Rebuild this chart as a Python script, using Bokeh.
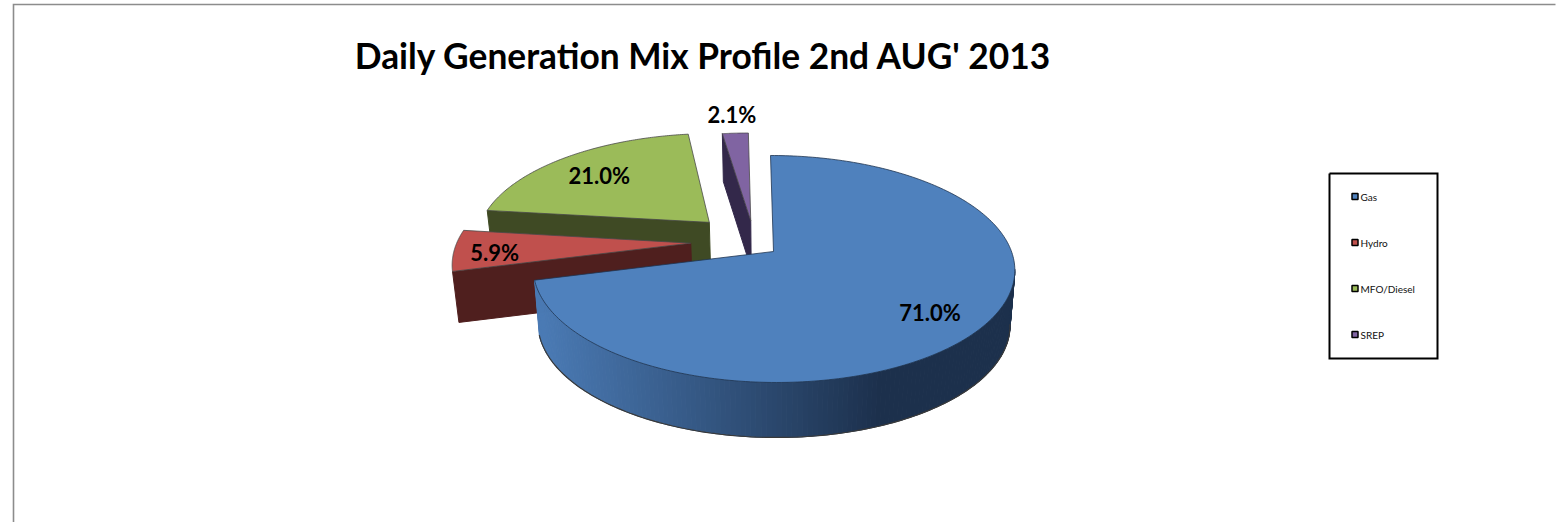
import math
from bokeh.plotting import figure
from bokeh.core.properties import value
from bokeh.embed import file_html
from bokeh.resources import INLINE

# ---- data ----
categories = ["Gas", "Hydro", "MFO/Diesel", "SREP"]
shares = [71.0, 5.9, 21.0, 2.1]
title_text = "Daily Generation Mix Profile 2nd AUG' 2013"

# ---- style / layout ----
top_colors = ["#4f81bd", "#c0504d", "#9bbb59", "#8064a2"]
side_colors = ["#2f4d73", "#4f1f1e", "#3f4a24", "#33284a"]
explode = [0.0, 0.36, 0.39, 0.32]
scale = [1.0, 0.98, 1.0, 1.0]
nudge = [(0, 0), (3, -11), (0, 0), (-17, 3)]
depth = [55, 51, 48, 48]
label_r = [0.765, 0.83, 0.75, 1.25]
label_dy = [5, 3, 3, 0]
CX, CY, R, K, P, TILT = 773, 251, 238, 110.8, 0.154, 3
W, H = 1560, 522

p = figure(width=W, height=H, x_range=(0, W), y_range=(H, 0),
           output_backend="svg", toolbar_location=None,
           min_border=0, outline_line_color=None)
p.axis.visible = False
p.grid.visible = False

def proj(U, V):
    s = 1 / (1 + P * V)
    return CX + R * U * s - TILT * V, CY - K * V * s

total = sum(shares)
spans, a = [], 0.0
for v in shares:
    b = a + v / total * 360
    spans.append((a, b))
    a = b

def slice_pt(i, th, r=1.0):
    mid = math.radians(sum(spans[i]) / 2)
    t = math.radians(th)
    U = r * scale[i] * math.sin(t) + explode[i] * math.sin(mid)
    V = r * scale[i] * math.cos(t) + explode[i] * math.cos(mid)
    x, y = proj(U, V)
    return x + nudge[i][0], y + nudge[i][1]

def arc(i, n=120):
    a0, a1 = spans[i]
    return [slice_pt(i, a0 + (a1 - a0) * k / n) for k in range(n + 1)]

def down(i, pt):
    x, y = pt
    return CX + (x - CX) * 0.98, y + depth[i]

def mix(t):
    c0, c1 = (0x4a, 0x7a, 0xb4), (0x1c, 0x30, 0x4c)
    return "#%02x%02x%02x" % tuple(round(c0[j] + (c1[j] - c0[j]) * t) for j in range(3))

# frame
p.line([13, 13, 1555], [H, 4, 4], line_color="#8c8c8c", line_width=1.6, line_join="miter")

# title
p.text([703], [55], text=[title_text], text_font=value("Lato"), text_font_style="bold",
       text_font_size="35.3px", text_align="center", text_baseline="middle", text_color="#000000")

# exploded slices, back to front
for i in (3, 2, 1):
    pts = arc(i)
    apex = slice_pt(i, spans[i][0], r=0.0)
    first = pts[0]
    q = [first, apex, down(i, apex), down(i, first)]
    p.patch([c[0] for c in q], [c[1] for c in q], fill_color=side_colors[i], line_color=side_colors[i], line_width=1)
    top = [apex] + pts
    p.patch([c[0] for c in top], [c[1] for c in top], fill_color=top_colors[i], line_color="#4a4a4a", line_width=0.8)

# Gas slice: outer wall with shading, then top
gas = arc(0, n=240)
start = max(range(len(gas)), key=lambda k: gas[k][0])
xs, ys, cols = [], [], []
for k in range(start, len(gas) - 1):
    c0, c1 = gas[k], gas[k + 1]
    d0, d1 = down(0, c0), down(0, c1)
    xs.append([c0[0], c1[0], d1[0], d0[0]])
    ys.append([c0[1], c1[1], d1[1], d0[1]])
    t = min(1, max(0, (880 - (c0[0] + c1[0]) / 2) / 340))
    cols.append(mix(1 - t))
p.patches(xs, ys, fill_color=cols, line_color=cols, line_width=1)
edge = [down(0, c) for c in gas[start:]]
p.line([c[0] for c in edge], [c[1] for c in edge], line_color="#3a3a3a", line_width=1.2)
apex = slice_pt(0, 0, r=0.0)
top = [apex] + gas
p.patch([c[0] for c in top], [c[1] for c in top], fill_color=top_colors[0], line_color="#1f3550", line_width=0.8)

# data labels
for i, v in enumerate(shares):
    x, y = slice_pt(i, sum(spans[i]) / 2, r=label_r[i])
    p.text([x], [y + label_dy[i]], text=[f"{v:.1f}%"], text_font=value("Lato"), text_font_style="bold",
           text_font_size="22px", text_align="center", text_baseline="middle", text_color="#000000")

# legend
LX0, LX1, LY0, LY1 = 1329, 1437, 173, 358
p.line([LX0, LX1, LX1, LX0, LX0], [LY0, LY0, LY1, LY1, LY0], line_color="#000000", line_width=2, line_join="miter")
for i, c in enumerate(categories):
    y = 196 + i * 46
    p.rect([1354.5], [y], width=6, height=6, fill_color=top_colors[i], line_color="#000000", line_width=1.5)
    p.text([1360], [y], text=[c], text_font=value("Lato"), text_font_size="10px",
           text_align="left", text_baseline="middle", text_color="#111111")

open("out.html", "w").write(file_html(p, INLINE))
